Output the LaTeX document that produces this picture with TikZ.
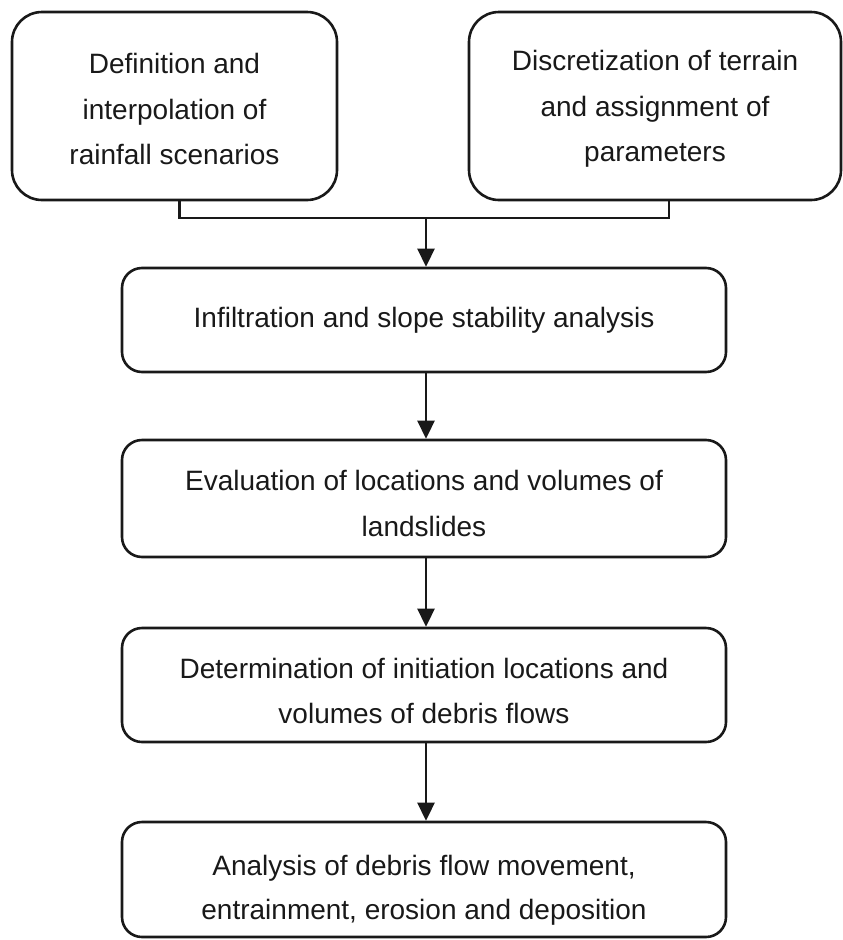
\documentclass[tikz,border=0pt]{standalone}
\usepackage{fontspec}
\setmainfont{Liberation Sans}
\usetikzlibrary{arrows.meta}
\begin{document}
\begin{tikzpicture}[x=1pt,y=-1pt,
  box/.style={draw=black!90, line width=2.6pt, rounded corners=20pt, inner sep=0pt},
  topbox/.style={box, rounded corners=30pt},
  txt/.style={align=center, font=\fontsize{28}{45.5}\selectfont, text=black!90, inner sep=0pt},
  conn/.style={draw=black!90, line width=2.6pt},
  arr/.style={conn, -{Triangle[length=18pt,width=17pt]}}]
\useasboundingbox (0,0) rectangle (843,940);
\node[topbox, minimum width=325pt, minimum height=188pt] (a) at (174.5,106) {};
\node[txt] (at) at ([yshift=-3pt]a.center) {Definition and\\interpolation of\\rainfall scenarios};
\node[topbox, minimum width=372pt, minimum height=188pt] (b) at (655,106) {};
\node[txt] (bt) at ([yshift=-3pt]b.center) {Discretization of terrain\\and assignment of\\parameters};
\node[box, minimum width=604pt, minimum height=104pt] (c) at (424,320) {};
\node[txt] (ct) at (c.center) {Infiltration and slope stability analysis};
\node[box, minimum width=604pt, minimum height=117pt] (d) at (424,498.5) {};
\node[txt] (dt) at ([yshift=-5pt]d.center) {Evaluation of locations and volumes of\\landslides};
\node[box, minimum width=604pt, minimum height=114pt] (e) at (424,685) {};
\node[txt] (et) at ([yshift=-6pt]e.center) {Determination of initiation locations and\\volumes of debris flows};
\node[box, minimum width=604pt, minimum height=115pt] (f) at (424,879.5) {};
\node[txt, font=\fontsize{28}{44}\selectfont] (ft) at ([yshift=-11pt]f.center) {Analysis of debris flow movement,\\entrainment, erosion and deposition};
\coordinate (j) at (426,218);
\draw[conn] ([xshift=5pt]a.south) |- (j) -| ([xshift=14pt]b.south);
\draw[arr] (j) -- (j |- c.north);
\draw[arr] (j |- c.south) -- (j |- d.north);
\draw[arr] (j |- d.south) -- (j |- e.north);
\draw[arr] (j |- e.south) -- (j |- f.north);
\end{tikzpicture}
\end{document}
